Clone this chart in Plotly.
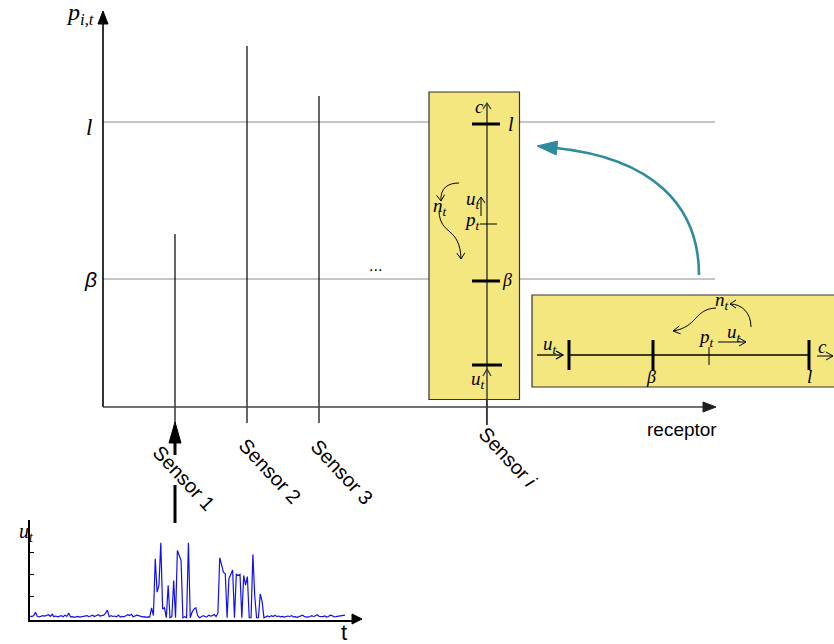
import plotly.graph_objects as go

W, H = 834, 644

# ---- data -------------------------------------------------------------
sensor_names = ["Sensor 1", "Sensor 2", "Sensor 3", "Sensor <i>i</i>"]
sensor_pos = [1, 2, 3, 5.33]          # position along the receptor
sensor_p = [6.07, 12.67, 10.91]       # p_{i,t} reached by sensors 1..3
level_l = 10.0
level_beta = 4.49

# u_t signal fed into sensor 1
u_t = [
    0.08, 0.05, 0.10, 0.25, 0.06, 0.04, 0.07, 0.10, 0.08, 0.12,
    0.14, 0.06, 0.16, 0.05, 0.08, 0.04, 0.07, 0.10, 0.05, 0.12,
    0.06, 0.22, 0.04, 0.05, 0.02, 0.04, 0.06, 0.03, 0.05, 0.04,
    0.08, 0.10, 0.05, 0.08, 0.12, 0.06, 0.10, 0.14, 0.08, 0.09,
    0.12, 0.20, 0.35, 0.05, 0.10, 0.06, 0.08, 0.04, 0.12, 0.03,
    0.06, 0.04, 0.08, 0.14, 0.10, 0.16, 0.05, 0.08, 0.12, 0.10,
    0.06, 0.04, 0.05, 0.02, 0.04, 0.03,
    0.46, 0.10, 2.72, 1.18, 1.50, 3.46, 0.40, 0.46, 0.00, 1.50,
    0.00, 0.05, 1.72, 0.00, 3.10, 2.90, 2.65, 0.00, 0.05, 0.00,
    3.46, 0.00, 0.26, 0.40, 0.46, 0.10, 0.00, 0.05, 0.10, 0.06,
    0.04, 0.12, 0.08, 0.10, 0.15, 0.06, 0.20, 2.77, 2.40, 2.10,
    2.03, 0.00, 1.80, 2.00, 2.20, 0.00, 2.00, 1.95, 2.00, 0.00,
    1.95, 1.50, 1.90, 0.00, 0.00, 2.92, 1.00, 0.00, 0.00, 1.10,
    0.75, 0.00,
    0.05, 0.08, 0.04, 0.10, 0.06, 0.12, 0.05, 0.08, 0.04, 0.06,
    0.03, 0.05, 0.08, 0.06, 0.10, 0.04, 0.05, 0.02, 0.06, 0.08,
    0.12, 0.05, 0.04, 0.03, 0.06, 0.10, 0.05, 0.08, 0.14, 0.06,
    0.04, 0.05, 0.08, 0.03, 0.06, 0.12, 0.10, 0.04, 0.05, 0.07,
    0.06, 0.08, 0.10, 0.12,
]
u_ticks = [1, 2, 3]

# ---- styling ----------------------------------------------------------
SERIF = "Liberation Serif, DejaVu Serif, serif"
SANS = "Liberation Sans, Arial, sans-serif"
YELLOW = "#F4E77F"
TEAL = "#2E8B9E"
GREY = "#C6C6C6"
DARK = "#333333"

fig = go.Figure()

# reference levels l and beta
fig.add_trace(go.Scatter(x=[0, 8.5], y=[level_l, level_l], mode="lines",
                         line=dict(color=GREY, width=2), xaxis="x", yaxis="y",
                         hoverinfo="skip"))
fig.add_trace(go.Scatter(x=[0, 8.5], y=[level_beta, level_beta], mode="lines",
                         line=dict(color=GREY, width=2), xaxis="x", yaxis="y",
                         hoverinfo="skip"))

# sensor stems
sx, sy = [], []
for pos, val in zip(sensor_pos[:3], sensor_p):
    sx += [pos, pos, None]
    sy += [-0.56, val, None]
sx += [sensor_pos[3], sensor_pos[3]]
sy += [-0.62, level_l + 1]
fig.add_trace(go.Scatter(x=sx, y=sy, mode="lines", line=dict(color="black", width=1.2),
                         xaxis="x", yaxis="y", hoverinfo="skip"))

# u_t time series
fig.add_trace(go.Scatter(x=list(range(len(u_t))), y=u_t, mode="lines",
                         line=dict(color="#1010F0", width=1.2),
                         xaxis="x3", yaxis="y3", hoverinfo="skip"))

# empty trace so the pixel overlay axes exist
fig.add_trace(go.Scatter(x=[], y=[], xaxis="x2", yaxis="y2", hoverinfo="skip"))

shapes = []
annots = []


def seg(x0, y0, x1, y1, color="black", width=1.0):
    shapes.append(dict(type="line", xref="x2", yref="y2", x0=x0, y0=y0, x1=x1, y1=y1,
                       line=dict(color=color, width=width), layer="above"))


def path(d, color="black", width=1.0, fill=None):
    s = dict(type="path", xref="x2", yref="y2", path=d,
             line=dict(color=color, width=width), layer="above")
    if fill:
        s["fillcolor"] = fill
    shapes.append(s)


def head(tx, ty, dx, dy, L=6, Wd=4, color="black", width=1.0, filled=False):
    n = (dx * dx + dy * dy) ** 0.5
    dx, dy = dx / n, dy / n
    bx, by = tx - L * dx, ty - L * dy
    p1 = (bx - Wd * dy, by + Wd * dx)
    p2 = (bx + Wd * dy, by - Wd * dx)
    if filled:
        path(f"M {tx},{ty} L {p1[0]},{p1[1]} L {p2[0]},{p2[1]} Z", color=color,
             width=width, fill=color)
    else:
        path(f"M {p1[0]},{p1[1]} L {tx},{ty} L {p2[0]},{p2[1]}", color=color, width=width)


def arrow(x0, y0, x1, y1, color="black", width=1.0, L=6, Wd=4):
    seg(x0, y0, x1, y1, color, width)
    head(x1, y1, x1 - x0, y1 - y0, L, Wd, color, width)


def curve(pts, color="black", width=1.0, L=6, Wd=4):
    (x0, y0), (c1x, c1y), (c2x, c2y), (x1, y1) = pts
    path(f"M {x0},{y0} C {c1x},{c1y} {c2x},{c2y} {x1},{y1}", color=color, width=width)
    head(x1, y1, x1 - c2x, y1 - c2y, L, Wd, color, width)


def text(x, y, s, size=16, family=SERIF, color="black", **kw):
    annots.append(dict(x=x, y=y, xref="x2", yref="y2", text=s, showarrow=False,
                       font=dict(family=family, size=size, color=color),
                       xanchor="center", yanchor="middle", **kw))


def mi(base, sub=None):
    s = f"<i>{base}</i>"
    if sub:
        s += f"<sub><i>{sub}</i></sub>"
    return s


# main axes with arrowheads
seg(103, 407, 103, 22, "black", 1.6)
head(103, 11, 0, -1, 13, 5, filled=True)
seg(103, 407, 705, 407, "#404040", 1.6)
head(716, 407, 1, 0, 13, 5, color="#202020", filled=True)

# sensor 1 input arrow
head(175, 422, 0, -1, 21, 6, filled=True)
seg(175, 441, 175, 455, "black", 3)
seg(175, 485, 175, 523, "black", 3)

# vertical detail box
shapes.append(dict(type="rect", xref="x2", yref="y2", x0=429, y0=92, x1=519.5, y1=399.5,
                   fillcolor=YELLOW, line=dict(color=DARK, width=1.2), layer="above"))
seg(487, 104, 487, 425, DARK, 1.4)
head(487, 103, 0, -1, 6, 4, DARK, 1.2)
head(487, 369, 0, -1, 7, 4, DARK, 1.2)
seg(472, 124, 500, 124, "black", 3)
seg(472, 281, 500, 281, "black", 3)
seg(472, 365, 502, 365, "black", 3)
seg(480, 224, 497, 224, "black", 1)
arrow(481, 216, 481, 197, "black", 1, 6, 4)
curve([(459, 183), (448, 183), (440, 188), (441, 201)], "black", 1, 6, 4)
curve([(439, 211), (440, 236), (460, 226), (461, 259)], "black", 1, 6, 4)
text(479, 106, mi("c"), 19)
text(511, 124, mi("l"), 20)
text(473, 200, mi("u", "t"), 19)
text(472, 221, mi("p", "t"), 19)
text(440, 207, mi("n", "t"), 19)
text(507, 280, mi("β"), 18)
text(478, 380, mi("u", "t"), 19)

# horizontal detail box
shapes.append(dict(type="rect", xref="x2", yref="y2", x0=532, y0=295, x1=840, y1=387,
                   fillcolor=YELLOW, line=dict(color=DARK, width=1.2), layer="above"))
seg(569, 355, 809, 355, "black", 1.3)
seg(569, 340, 569, 370, "black", 3)
seg(653, 340, 653, 371, "black", 3)
seg(809, 340, 809, 370, "black", 3)
seg(709, 347, 709, 365, "black", 1)
arrow(537, 355, 563, 355, "black", 1.3, 7, 4)
arrow(718, 342, 746, 342, "black", 1, 7, 4)
arrow(817, 356, 833, 356, "black", 1, 7, 4)
curve([(751, 327), (751, 313), (742, 304), (730, 304)], "black", 1, 6, 4)
curve([(716, 308), (694, 309), (698, 327), (673, 331)], "black", 1, 7, 4)
text(550, 345, mi("u", "t"), 19)
text(651, 377, mi("β"), 18)
text(706, 338, mi("p", "t"), 19)
text(734, 333, mi("u", "t"), 19)
text(809, 376, mi("l"), 19)
text(822, 346, mi("c"), 19)
text(722, 301, mi("n", "t"), 19)

# teal mapping arrow
path("M 699,275 C 699,205 652,158 556,148", TEAL, 2.6)
head(537, 146, -1, -0.1, 20, 7, TEAL, 1, filled=True)

# time-series inset arrow on t axis
head(362, 619, 1, 0, 10, 5, filled=True)

# axis and level labels
text(80, 14, mi("p", "i,t"), 24)
text(89, 127, mi("l"), 23)
text(90, 279, "<i>β</i>", 21, SANS)
text(375, 265, "...", 16, SANS)
text(682, 429, "receptor", 19, SANS)
text(26, 532, mi("u", "t"), 20)
text(344, 632, "t", 22, SANS)

# sensor labels
shifts = [9, 23, 23, 21]
centers = [478, 471, 472, 457]
for name, pos, dx, cy in zip(sensor_names, sensor_pos, shifts, centers):
    annots.append(dict(x=pos, y=cy, xref="x", yref="y2", xshift=dx, text=name,
                       showarrow=False, textangle=47,
                       font=dict(family=SANS, size=20, color="black"),
                       xanchor="center", yanchor="middle"))

ppx = 28.5  # pixels per unit of p
fig.update_layout(
    width=W, height=H, margin=dict(l=0, r=0, t=0, b=0),
    paper_bgcolor="white", plot_bgcolor="rgba(0,0,0,0)", showlegend=False,
    xaxis=dict(domain=[103 / W, 715 / W], range=[0, 8.5], visible=False,
               fixedrange=True, anchor="y"),
    yaxis=dict(domain=[1 - 425 / H, 1 - 12 / H], range=[-18 / ppx, 395 / ppx],
               visible=False, fixedrange=True, anchor="x"),
    xaxis2=dict(domain=[0, 1], range=[0, W], visible=False, anchor="y2"),
    yaxis2=dict(domain=[0, 1], range=[H, 0], visible=False, anchor="x2"),
    xaxis3=dict(domain=[30 / W, 355 / W], range=[0, (len(u_t) - 1) * 325 / 315],
                showline=True, linecolor="black", linewidth=2, showgrid=False,
                zeroline=False, showticklabels=False, ticks="", anchor="y3"),
    yaxis3=dict(domain=[1 - 619.5 / H, 1 - 520 / H], range=[-0.08, 4.505],
                showline=True, linecolor="black", linewidth=2, showgrid=False,
                zeroline=False, showticklabels=False, ticks="inside", ticklen=4,
                tickwidth=1, tickcolor="black", tickvals=u_ticks, anchor="x3"),
    shapes=shapes, annotations=annots,
)

fig.write_html("out.html")
